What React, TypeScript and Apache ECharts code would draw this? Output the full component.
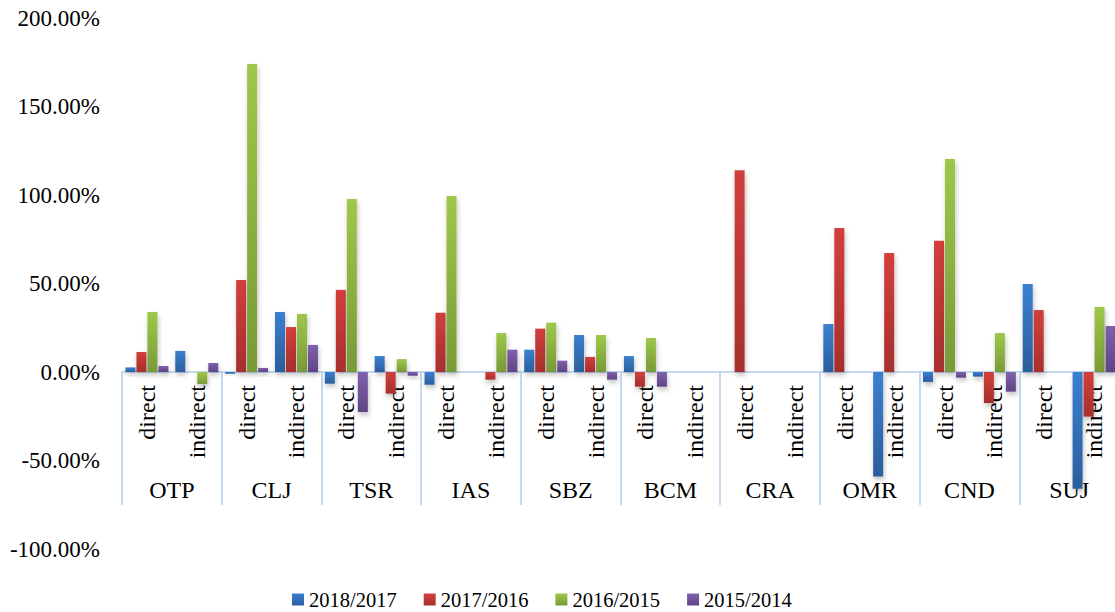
import React, { useEffect, useRef } from "react";
import * as echarts from "echarts";

const subCategories = [
  "direct", "indirect", "direct", "indirect", "direct", "indirect", "direct", "indirect", "direct", "indirect",
  "direct", "indirect", "direct", "indirect", "direct", "indirect", "direct", "indirect", "direct", "indirect",
];
const cities = ["OTP", "CLJ", "TSR", "IAS", "SBZ", "BCM", "CRA", "OMR", "CND", "SUJ"];
const seriesNames = ["2018/2017", "2017/2016", "2016/2015", "2015/2014"];

const s2018 = [2.6, 11.9, -1, 33.9, -6.6, 9, -7.2, 0, 12.6, 20.9, 9, 0, 0, 0, 27.1, -59.1, -5.6, -2.6, 49.7, -66];
const s2017 = [11.3, 0, 52, 25.4, 46.4, -12.2, 33.5, -4.3, 24.5, 8.5, -8.3, 0, 114, 0, 81.4, 67.2, 74.2, -17.5, 35, -25.2];
const s2016 = [33.9, -6.8, 174, 32.8, 97.7, 7.3, 99.4, 22, 27.9, 20.9, 19.2, 0, 0, 0, 0, 0, 120.3, 22, 0, 36.7];
const s2015 = [3.4, 5.1, 2.3, 15.3, -22.6, -2.1, 0, 12.6, 6.4, -4.3, -8.3, 0, 0, 0, 0, 0, -3.2, -11.1, 0, 26];

const yTicks = { min: -100, max: 200, interval: 50 };

const palette = [
  ["#3b7fd1", "#2b5e9c"],
  ["#d33f3c", "#a72f2d"],
  ["#9ec849", "#789a38"],
  ["#8160ad", "#5e4585"],
];

const FONT = "'Liberation Serif', 'Times New Roman', serif";

const GRID_TOP = 18;
const GRID_BOTTOM = 63;
const CHART_H = 612;

export default function App() {
  const ref = useRef<HTMLDivElement>(null);
  useEffect(() => {
    if (!ref.current) return;
    const chart = echarts.init(ref.current, null, { renderer: "svg" });
    const allData = [s2018, s2017, s2016, s2015];
    const axisColor = "#c6d9f1";
    const gridH = CHART_H - GRID_TOP - GRID_BOTTOM;
    const zeroY = GRID_TOP + (yTicks.max / (yTicks.max - yTicks.min)) * gridH;
    const zeroOffset = zeroY - (CHART_H - GRID_BOTTOM);
    chart.setOption({
      animation: false,
      backgroundColor: "#ffffff",
      grid: { left: 122, right: -4, top: GRID_TOP, bottom: GRID_BOTTOM, containLabel: false, outerBoundsMode: "none" },
      legend: {
        data: seriesNames,
        left: 292,
        top: 589,
        padding: 0,
        icon: "rect",
        itemWidth: 12,
        itemHeight: 12,
        itemGap: 27,
        textStyle: { fontFamily: FONT, fontSize: 20.5, color: "#000" },
      },
      xAxis: [
        {
          type: "category",
          data: subCategories,
          position: "bottom",
          offset: zeroOffset,
          axisLine: { onZero: false, lineStyle: { color: axisColor, width: 2 } },
          axisTick: { show: false },
          axisLabel: {
            rotate: 90,
            interval: 0,
            margin: 13,
            fontFamily: FONT,
            fontSize: 24,
            color: "#000",
          },
          splitLine: { show: false },
        },
        {
          type: "category",
          data: cities,
          position: "bottom",
          offset: zeroOffset,
          axisLine: { onZero: false, lineStyle: { color: axisColor, width: 2 } },
          axisTick: { show: true, length: 133, lineStyle: { color: axisColor, width: 2 } },
          axisLabel: {
            interval: 0,
            margin: 106,
            fontFamily: FONT,
            fontSize: 24,
            color: "#000",
          },
          splitLine: { show: false },
        },
      ],
      yAxis: {
        type: "value",
        min: yTicks.min,
        max: yTicks.max,
        interval: yTicks.interval,
        axisLine: { show: false },
        axisTick: { show: false },
        splitLine: { show: false },
        axisLabel: {
          margin: 22,
          fontFamily: FONT,
          fontSize: 23,
          color: "#000",
          formatter: (v: number) => v.toFixed(2) + "%",
        },
      },
      series: seriesNames.map((name, i) => ({
        name,
        type: "bar",
        xAxisIndex: 0,
        data: allData[i],
        barWidth: 10,
        barGap: "10%",
        itemStyle: {
          color: new echarts.graphic.LinearGradient(0, 0, 0, 1, [
            { offset: 0, color: palette[i][0] },
            { offset: 1, color: palette[i][1] },
          ]),
          shadowBlur: 5,
          shadowColor: "rgba(0,0,0,0.25)",
          shadowOffsetX: 1,
          shadowOffsetY: 3,
        },
      })),
    });
    return () => chart.dispose();
  }, []);
  return (
    <div
      ref={ref}
      style={{ position: "fixed", left: 0, top: 0, width: 1115, height: 612, background: "#fff" }}
    />
  );
}
